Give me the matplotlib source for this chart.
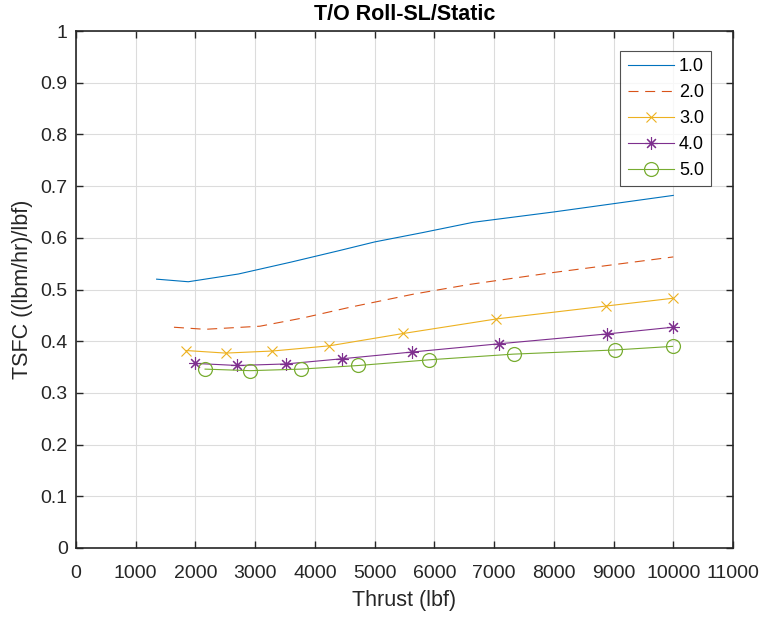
import matplotlib
matplotlib.use("Agg")
import matplotlib.pyplot as plt

plt.rcParams['font.family'] = ['Liberation Sans', 'DejaVu Sans']

title = "T/O Roll-SL/Static"
xlabel = "Thrust (lbf)"
ylabel = "TSFC ((lbm/hr)/lbf)"
labels = ["1.0", "2.0", "3.0", "4.0", "5.0"]

x1 = [1350, 1880, 2720, 3600, 4400, 5000, 5800, 6650, 8000, 10000]
y1 = [0.520, 0.515, 0.530, 0.553, 0.575, 0.592, 0.610, 0.630, 0.650, 0.682]

x2 = [1640, 2160, 3080, 3800, 4600, 5650, 6600, 8000, 10000]
y2 = [0.427, 0.423, 0.429, 0.445, 0.466, 0.491, 0.510, 0.533, 0.563]

x3 = [1837, 2507, 3289, 4238, 5483, 7035, 8872, 9989]
y3 = [0.382, 0.377, 0.381, 0.391, 0.415, 0.443, 0.468, 0.483]

x4 = [1999, 2703, 3512, 4450, 5622, 7085, 8888, 9989]
y4 = [0.357, 0.353, 0.356, 0.366, 0.379, 0.395, 0.414, 0.427]

x5 = [2161, 2915, 3763, 4729, 5913, 7325, 9017, 9989]
y5 = [0.346, 0.343, 0.346, 0.353, 0.364, 0.375, 0.383, 0.390]

xticks = list(range(0, 11001, 1000))
yticks = [0, 0.1, 0.2, 0.3, 0.4, 0.5, 0.6, 0.7, 0.8, 0.9, 1]
ytick_labels = ["0", "0.1", "0.2", "0.3", "0.4", "0.5", "0.6", "0.7", "0.8", "0.9", "1"]

fig = plt.figure(figsize=(7.62, 6.18), dpi=100)
ax = fig.add_axes([76/762, 1-548/618, (733-76)/762, (548-31)/618])

lw = 0.8
ax.plot(x1, y1, color="#0072BD", lw=lw, label=labels[0])
ax.plot(x2, y2, color="#D95319", lw=lw, ls=(0, (9, 6)), label=labels[1])
ax.plot(x3, y3, color="#EDB120", lw=lw, marker="x", ms=7, mew=0.8, label=labels[2])
ax.plot(x4, y4, color="#7E2F8E", lw=lw, marker=(8, 2, 0), ms=9, mew=0.8, label=labels[3])
ax.plot(x5, y5, color="#77AC30", lw=lw, marker="o", ms=10, mfc="none", mew=0.9, label=labels[4])

ax.set_xlim(0, 11000)
ax.set_ylim(0, 1)
ax.set_xticks(xticks)
ax.set_yticks(yticks)
ax.set_yticklabels(ytick_labels)
ax.tick_params(direction="in", length=5, width=1, top=True, right=True,
               labelsize=14, colors="#262626")
ax.tick_params(axis="x", pad=12)
ax.tick_params(axis="y", pad=6)
ax.grid(True, color="#dcdcdc", lw=0.8)
ax.set_axisbelow(True)
for s in ax.spines.values():
    s.set_color("#262626")
    s.set_linewidth(1.2)

fig.text((76 + 733) / 2 / 762, 1 - 14 / 618, title, fontsize=15.5,
         fontweight="bold", color="black", ha="center", va="center")
ax.set_xlabel(xlabel, fontsize=15.5, color="#262626", labelpad=6)
ax.set_ylabel(ylabel, fontsize=15.5, color="#262626", labelpad=5)

leg = ax.legend(loc="upper right", bbox_to_anchor=(0.967, 0.962), fontsize=13,
                handlelength=2.55, frameon=True, fancybox=False, borderpad=0.4,
                labelspacing=0.5, handletextpad=0.3, borderaxespad=0)
leg.get_frame().set_edgecolor("#262626")
leg.get_frame().set_linewidth(0.8)

fig.savefig("out.png", dpi=100)
